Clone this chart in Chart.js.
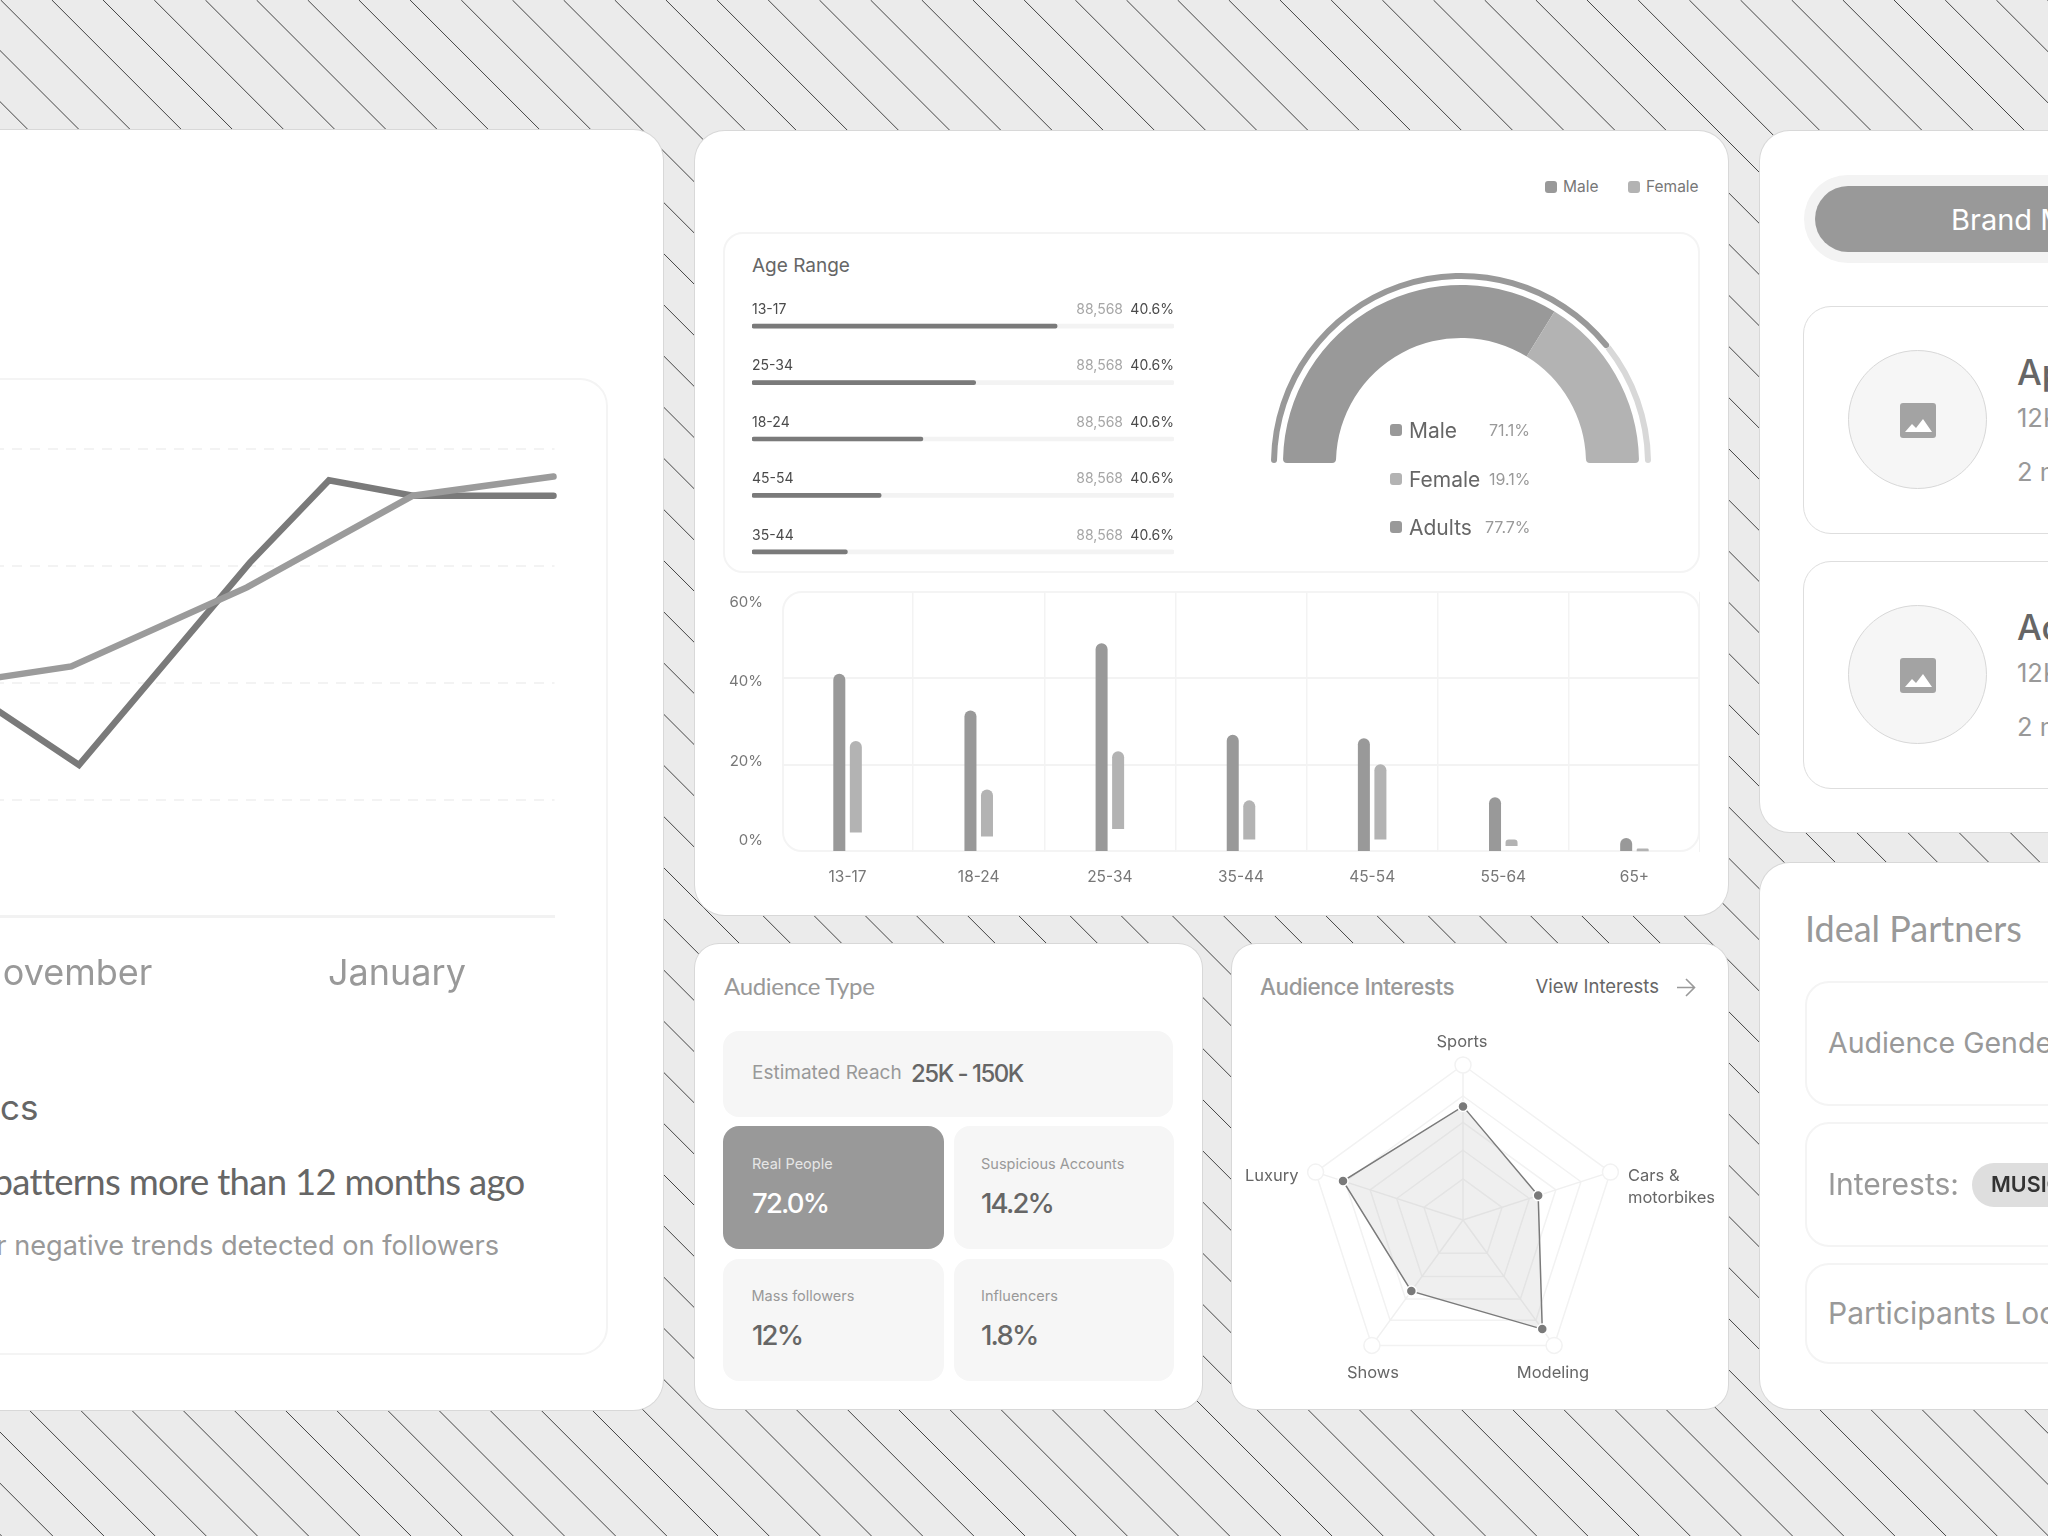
<!DOCTYPE html>
<html>
<head>
<meta charset="utf-8">
<title>Audience dashboard</title>
<script src="https://cdn.jsdelivr.net/npm/chart.js@4/dist/chart.umd.js"></script>
<style>
html, body { margin: 0; padding: 0; }
body {
    position: relative;
    width: 2048px;
    height: 1536px;
    overflow: hidden;
    font-family: Inter, sans-serif;
    background-color: #ebebeb;
}
.box, .txt, canvas, svg { position: absolute; display: block; }
.box { box-sizing: border-box; }
.card { background: #fff; border-radius: 30px; box-shadow: 0 0 0 1px #d8d8d8; }
.soft { background: #fff; border: 2px solid #f4f4f4; }
.fill { background: #f6f6f6; border-radius: 16px; }
.txt { white-space: nowrap; line-height: 1; transform: translateY(-50%); }
.round { font-family: Lato, sans-serif; }
</style>
</head>
<body>
<script>
// gauge
const gaugeLabels = ['Male', 'Female', 'Adults'];
const gaugeTexts = ['71.1%', '19.1%', '77.7%'];
const gaugeMain = [67.6, 32.4];
const gaugeRing = [78.8, 21.2];

// line chart (x in months, November = 0)
const monthTicks = [-0.024, 2];
const monthNames = ['November', 'January'];
const lineX1 = [-1.02, 0.067, 1.106, 1.587, 2.097, 2.952];
const lineY1 = [58, 32.4, 75.7, 93.3, 90, 90];
const lineX2 = [-1.02, 0.02, 1.088, 2.097, 2.952];
const lineY2 = [48, 53.5, 70.4, 90, 94.1];

// age range rows
const ageRows = ['13-17', '25-34', '18-24', '45-54', '35-44'];
const ageShare = [72.3, 53, 40.5, 30.6, 22.6];
const ageCounts = ['88,568', '88,568', '88,568', '88,568', '88,568'];
const agePercents = ['40.6%', '40.6%', '40.6%', '40.6%', '40.6%'];

// bars by gender
const barLabels = ['13-17', '18-24', '25-34', '35-44', '45-54', '55-64', '65+'];
const maleValues = [41.1, 32.6, 48.1, 27, 26.2, 12.6, 3.2];
const femaleLow = [4.5, 3.6, 5.3, 2.9, 2.9, 1.4, 0.2];
const femaleHigh = [25.6, 14.4, 23.2, 11.9, 20.2, 2.9, 0.8];
const barTicks = [0, 20, 40, 60];

// radar
const radarLabels = ['Sports', 'Cars & motorbikes', 'Modeling', 'Shows', 'Luxury'];
const radarValues = [73.3, 51, 87, 56.7, 81.4];
const radarOuter = [100, 100, 100, 100, 100];
const radarRings = [0, 26.5, 45, 63, 80, 100];

const GREY = '#999999';
const GREY_LIGHT = '#b3b3b3';
const GREY_DARK = '#7a7a7a';
const GRID = '#f3f3f3';

Chart.defaults.font.family = 'Inter, sans-serif';
Chart.defaults.plugins.legend.display = false;
Chart.defaults.plugins.tooltip.enabled = false;

function box(x, y, w, h, cls, style) {
    const d = document.createElement('div');
    d.className = 'box ' + cls;
    d.style.cssText = `left:${x}px;top:${y}px;width:${w}px;height:${h}px;${style || ''}`;
    document.body.appendChild(d);
    return d;
}

function txt(text, x, y, size, color, weight, extra) {
    const d = document.createElement('div');
    d.className = 'txt';
    d.textContent = text;
    d.style.cssText = `left:${x}px;top:${y}px;font-size:${size}px;color:${color};font-weight:${weight || 400};${extra || ''}`;
    document.body.appendChild(d);
    return d;
}

function addCanvas(x, y, w, h) {
    const c = document.createElement('canvas');
    c.width = w;
    c.height = h;
    c.style.cssText = `left:${x}px;top:${y}px;width:${w}px;height:${h}px`;
    document.body.appendChild(c);
    return c;
}

function addSvg(x, y, w, h, inner) {
    const holder = document.createElement('div');
    holder.innerHTML = `<svg style="left:${x}px;top:${y}px" width="${w}" height="${h}" viewBox="0 0 ${w} ${h}">${inner}</svg>`;
    document.body.appendChild(holder.firstChild);
}

function pairs(xs, ys) {
    return xs.map((x, i) => ({ x: x, y: ys[i] }));
}

// keep the chart area exactly where the layout wants it
function noMargins(s) {
    s.paddingTop = 0;
    s.paddingBottom = 0;
    s.paddingLeft = 0;
    s.paddingRight = 0;
}

// background hatching
let hatch = '';
for (let k = -31; k < 41; k++) {
    const x0 = 0.7 + k * 51.17;
    hatch += `<line x1="${x0}" y1="0" x2="${x0 + 1536}" y2="1536"/>`;
}
addSvg(0, 0, 2048, 1536, `<g stroke="#444" stroke-width="1">${hatch}</g>`);

// ---- left card: trend lines ----
box(-60, 130, 723, 1280, 'card');
box(-60, 378, 668, 977, 'soft', 'border-radius:28px');

new Chart(addCanvas(-150, 439, 712, 561), {
    type: 'line',
    data: {
        datasets: [
            { data: pairs(lineX2, lineY2), borderColor: '#9b9b9b', clip: false },
            { data: pairs(lineX1, lineY1), borderColor: GREY_DARK, clip: false }
        ]
    },
    options: {
        responsive: false,
        animation: false,
        layout: { padding: { top: 10, right: 7.5 } },
        elements: {
            line: { borderWidth: 6.5, tension: 0, borderCapStyle: 'round', borderJoinStyle: 'miter' },
            point: { radius: 0 }
        },
        scales: {
            x: {
                type: 'linear',
                min: -1.325,
                max: 2.958,
                afterBuildTicks: s => { s.ticks = monthTicks.map(v => ({ value: v })); },
                afterFit: s => { s.height = 83.5; noMargins(s); },
                grid: { display: false },
                border: { color: '#f2f2f2', width: 3 },
                ticks: {
                    padding: 28.5,
                    maxRotation: 0,
                    autoSkip: false,
                    color: GREY,
                    font: { size: 36 },
                    callback: (v, i) => monthNames[i]
                }
            },
            y: {
                min: 0,
                max: 100,
                afterFit: s => { s.width = 0; noMargins(s); },
                ticks: { display: false, stepSize: 25 },
                grid: { color: '#f3f3f3', lineWidth: 2, drawTicks: false },
                border: { display: false, dash: [10, 8] }
            }
        }
    }
});

txt('cs', 0, 1107, 35, '#666', 400);
txt('patterns more than 12 months ago', 0, 1181, 36.5, '#666', 400, 'left:auto;right:1523.5px;letter-spacing:-0.7px').classList.add('round');
txt('or negative trends detected on followers', 0, 1246, 27.2, GREY, 400, 'left:auto;right:1549px');

// ---- middle card: age range ----
box(695, 131, 1033, 784, 'card');
box(1545, 181, 12, 12, '', `background:${GREY};border-radius:3px`);
txt('Male', 1563, 187, 15.5, '#777');
box(1628, 181, 12, 12, '', `background:${GREY_LIGHT};border-radius:3px`);
txt('Female', 1646, 187, 15.5, '#777');

box(723, 232, 977, 341, 'soft', 'border-radius:20px');
txt('Age Range', 752, 265, 19, '#666');

// labels above each progress row, placed from the bar positions
const ageRowText = {
    id: 'ageRowText',
    afterDatasetsDraw(chart) {
        const ctx = chart.ctx;
        chart.getDatasetMeta(0).data.forEach((bar, i) => {
            const y = bar.y - 16.5;
            ctx.save();
            ctx.textBaseline = 'middle';
            ctx.font = '14px Inter, sans-serif';
            ctx.textAlign = 'left';
            ctx.fillStyle = '#4a4a4a';
            ctx.fillText(ageRows[i], 0, y);
            ctx.textAlign = 'right';
            ctx.fillStyle = '#a6a6a6';
            ctx.fillText(ageCounts[i], 371, y);
            ctx.fillStyle = '#4a4a4a';
            ctx.fillText(agePercents[i], 422, y);
            ctx.restore();
        });
    }
};

new Chart(addCanvas(752, 298, 422, 282), {
    type: 'bar',
    data: {
        labels: ageRows,
        datasets: [
            { data: ageShare, backgroundColor: GREY_DARK },
            { data: ageRows.map(() => 100), backgroundColor: '#f3f3f3' }
        ]
    },
    options: {
        responsive: false,
        animation: false,
        indexAxis: 'y',
        elements: { bar: { borderRadius: 2, borderSkipped: false } },
        datasets: { bar: { barThickness: 4, grouped: false } },
        scales: {
            x: { display: false, min: 0, max: 100 },
            y: { display: false }
        }
    },
    plugins: [ageRowText]
});

// gauge
function arcCorner(last, size) {
    return ctx => (ctx.dataIndex === 0
        ? { outerStart: size, innerStart: size, outerEnd: last, innerEnd: last }
        : { outerStart: 0, innerStart: 0, outerEnd: size, innerEnd: size });
}

new Chart(addCanvas(1269, 272, 384, 192), {
    type: 'doughnut',
    data: {
        datasets: [
            { data: gaugeRing, backgroundColor: [GREY, '#d8d8d8'], weight: 6, borderRadius: arcCorner(3, 3) },
            { data: [1], backgroundColor: 'transparent', weight: 6 },
            { data: gaugeMain, backgroundColor: [GREY, GREY_LIGHT], weight: 53, borderRadius: arcCorner(0, 4) }
        ]
    },
    options: {
        responsive: false,
        animation: false,
        rotation: -90,
        circumference: 180,
        cutout: '65.79%',
        radius: 190,
        borderWidth: 0
    }
});

const gaugeColors = [GREY, GREY_LIGHT, GREY];
const gaugeTextX = [1489, 1489, 1485];
gaugeLabels.forEach((name, i) => {
    const y = 430 + i * 48.6;
    box(1390, y - 6, 12, 12, '', `background:${gaugeColors[i]};border-radius:3px`);
    txt(name, 1409, y, 21, '#666');
    txt(gaugeTexts[i], gaugeTextX[i], y, 16, GREY);
});

// bars
box(782, 591, 918, 261, 'soft', 'border-radius:20px');

new Chart(addCanvas(723, 581, 977, 306), {
    type: 'bar',
    data: {
        labels: barLabels,
        datasets: [
            { data: maleValues, backgroundColor: GREY },
            { data: femaleLow.map((v, i) => [v, femaleHigh[i]]), backgroundColor: GREY_LIGHT }
        ]
    },
    options: {
        responsive: false,
        animation: false,
        layout: { padding: { top: 10.7 } },
        categoryPercentage: 0.252,
        barPercentage: 0.727,
        elements: {
            bar: {
                borderSkipped: false,
                borderRadius: { topLeft: 6, topRight: 6, bottomLeft: 0, bottomRight: 0 }
            }
        },
        scales: {
            x: {
                afterFit: s => { s.height = 35; noMargins(s); },
                border: { display: false },
                grid: {
                    drawTicks: false,
                    lineWidth: 1.5,
                    color: c => (c.index === 0 || c.index === barLabels.length ? 'transparent' : GRID)
                },
                ticks: { padding: 16, color: '#777', font: { size: 15.5 }, maxRotation: 0 }
            },
            y: {
                min: 0,
                max: 60,
                afterFit: s => { s.width = 0; noMargins(s); },
                afterBuildTicks: s => { s.ticks = barTicks.map(v => ({ value: v })); },
                border: { display: false },
                grid: {
                    drawTicks: false,
                    lineWidth: 2,
                    color: c => (c.tick.value === 0 || c.tick.value === 60 ? 'transparent' : GRID)
                },
                ticks: { display: false }
            },
            yLabels: {
                position: 'left',
                min: -2.77,
                max: 62.6,
                afterFit: s => { s.width = 59; noMargins(s); },
                afterBuildTicks: s => { s.ticks = barTicks.map(v => ({ value: v })); },
                border: { display: false },
                grid: { display: false, drawTicks: false },
                ticks: { padding: 19, color: '#777', font: { size: 15 }, callback: v => v + '%' }
            }
        }
    }
});

// ---- audience type ----
box(695, 944, 507, 465, 'card', 'border-radius:24px');
txt('Audience Type', 724, 986, 24, GREY, 400, 'letter-spacing:-0.3px').classList.add('round');
box(723, 1031, 450, 86, 'fill');
txt('Estimated Reach', 752, 1072, 19, GREY);
txt('25K - 150K', 911, 1074, 24, '#666', 500, 'letter-spacing:-1.5px');

const statValue = 'letter-spacing:-1.8px';
box(723, 1126, 221, 123, 'fill', `background:${GREY}`);
box(954, 1126, 220, 123, 'fill');
box(723, 1259, 221, 122, 'fill');
box(954, 1259, 220, 122, 'fill');
txt('Real People', 752, 1163.5, 14.5, '#e6e6e6');
txt('72.0%', 752, 1203.5, 27.5, '#fff', 500, statValue);
txt('Suspicious Accounts', 981, 1164, 14.5, GREY);
txt('14.2%', 981, 1203.5, 27.5, '#666', 500, statValue);
txt('Mass followers', 751.5, 1296, 14.5, GREY);
txt('12%', 752, 1336, 27.5, '#666', 500, statValue);
txt('Influencers', 981, 1296, 14.5, GREY);
txt('1.8%', 981, 1336, 27.5, '#666', 500, statValue);

// ---- audience interests ----
box(1232, 944, 496, 465, 'card', 'border-radius:24px');
txt('Audience Interests', 1260, 987, 22.5, GREY, 500, 'letter-spacing:-0.4px');
txt('View Interests', 1535.5, 986, 18.5, '#666');
addSvg(1676, 977, 20, 20, '<path d="M1 10.5H18M10 2l8.500 8.500L10 19" fill="none" stroke="#999" stroke-width="1.600"/>');

new Chart(addCanvas(1288, 1045, 350, 350), {
    type: 'radar',
    data: {
        labels: radarLabels,
        datasets: [
            {
                data: radarValues,
                borderColor: GREY_DARK,
                borderWidth: 1.5,
                backgroundColor: 'rgba(153,153,153,0.16)',
                fill: true,
                pointRadius: 5,
                pointBackgroundColor: GREY_DARK,
                pointBorderColor: '#fff',
                pointBorderWidth: 1.5
            },
            {
                data: radarOuter,
                borderColor: 'transparent',
                borderWidth: 0,
                fill: false,
                pointRadius: 8,
                pointBackgroundColor: '#fff',
                pointBorderColor: '#f2f2f2',
                pointBorderWidth: 1.5
            }
        ]
    },
    options: {
        responsive: false,
        animation: false,
        layout: { padding: 20 },
        scales: {
            r: {
                min: 0,
                max: 100,
                afterBuildTicks: s => { s.ticks = radarRings.map(v => ({ value: v })); },
                ticks: { display: false },
                pointLabels: { display: false },
                grid: { color: '#f2f2f2', lineWidth: 1.5 },
                angleLines: { color: '#f0f0f0', lineWidth: 1.5 }
            }
        }
    }
});

txt('Sports', 1462, 1041, 16.5, '#666', 400, 'transform:translate(-50%,-50%)');
txt('Cars &', 1628, 1175, 16.5, '#666');
txt('motorbikes', 1628, 1197, 16.5, '#666');
txt('Luxury', 1245, 1175, 16.5, '#666');
txt('Shows', 1373, 1372, 16.5, '#666', 400, 'transform:translate(-50%,-50%)');
txt('Modeling', 1553, 1372, 16.5, '#666', 400, 'transform:translate(-50%,-50%)');

// ---- right cards ----
box(1760, 131, 400, 701, 'card');
box(1804, 175, 400, 88, '', 'background:#f3f3f3;border-radius:44px');
box(1815, 186, 400, 66, '', `background:${GREY};border-radius:33px`);
txt('Brand Mentions', 1951, 219, 29, '#fff');

const IMG_ICON = '<rect width="36" height="35" rx="3" fill="#a3a3a3"/><path d="M5 29l7-8 4 4 7-9 9 13z" fill="#fff"/>';
const brandNames = ['Apple', 'Adidas'];
const brandTop = [306, 561];
brandNames.forEach((name, i) => {
    const y = brandTop[i];
    box(1803, y, 400, 228, '', 'background:#fff;border:1.5px solid #dedede;border-radius:28px');
    box(1848, y + 44, 139, 139, '', 'background:#f6f6f6;border:1px solid #d8d8d8;border-radius:50%');
    addSvg(1900, y + 97, 36, 35, IMG_ICON);
    txt(name, 2017, y + 66, 35, '#666', 500);
    txt('12K followers', 2017, y + 112, 25.5, GREY);
    txt('2 months ago', 2017, y + 166, 25.5, GREY);
});

box(1760, 863, 400, 546, 'card');
txt('Ideal Partners', 1805, 928, 36, GREY).classList.add('round');
box(1805, 981, 400, 125, 'soft', 'border-radius:24px');
box(1805, 1122, 400, 125, 'soft', 'border-radius:24px');
box(1805, 1263, 400, 101, 'soft', 'border-radius:24px');
txt('Audience Gender', 1828, 1043, 28.5, GREY);
txt('Interests:', 1828, 1184, 30, GREY);
box(1972, 1163, 200, 44, '', 'background:#dedede;border-radius:22px');
txt('MUSIC', 1991, 1185, 21.5, '#333', 600);
txt('Participants Location', 1828, 1313, 30, GREY);
</script>
</body>
</html>
